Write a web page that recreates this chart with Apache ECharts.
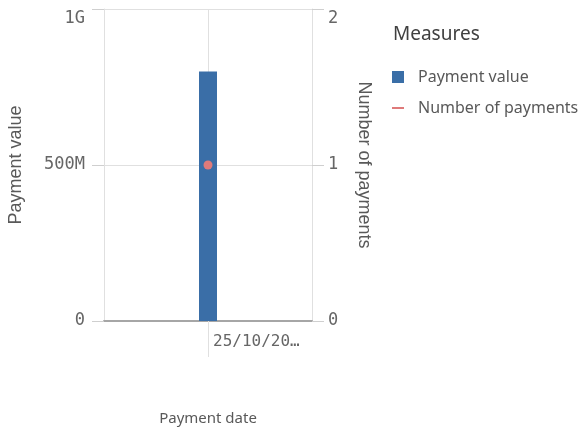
<!DOCTYPE html>
<html>
<head>
<meta charset="utf-8">
<script src="https://cdn.jsdelivr.net/npm/echarts@6/dist/echarts.min.js"></script>
<style>
html,body{margin:0;padding:0;background:#fff;}
#chart{width:584px;height:427px;}
</style>
</head>
<body>
<div id="chart"></div>
<script>
// Payments by date: value (bars, left axis) and count (points, right axis)
const categories = ['25/10/20…'];
const paymentValue = [800000000];
const numberOfPayments = [1];
const leftTicks = { min: 0, max: 1000000000, interval: 500000000 };
const rightTicks = { min: 0, max: 2, interval: 1 };

const monoFont = '"DejaVu Sans Mono", monospace';
const sansFont = '"Noto Sans", "Open Sans", sans-serif';
const nameFont = '"Liberation Sans", Arial, sans-serif';
const gridColor = '#e0e0e0';
const tickColor = '#cfcfcf';

function shortNumber(v) {
  if (v >= 1e9) return (v / 1e9) + 'G';
  if (v >= 1e6) return (v / 1e6) + 'M';
  return String(v);
}

// the topmost tick label sits just below its gridline so it stays inside the chart
function labelFormatter(max, fmt) {
  return function (v) {
    const s = fmt(v);
    return v === max ? '{top|' + s + '}' : s;
  };
}
const topRich = { top: { padding: [20, 0, 0, 0] } };

const chart = echarts.init(document.getElementById('chart'));
chart.setOption({
  animation: false,
  backgroundColor: '#fff',
  title: {
    text: 'Measures',
    left: 388, top: 20,
    textStyle: { fontFamily: sansFont, fontSize: 19, fontWeight: 'normal', color: '#404040' }
  },
  legend: {
    orient: 'vertical',
    left: 387, top: 64,
    itemWidth: 12, itemHeight: 12, itemGap: 15,
    textStyle: { fontFamily: sansFont, fontSize: 16, color: '#595959', padding: [0, 0, 0, 9] },
    data: [
      { name: 'Payment value', icon: 'rect' },
      { name: 'Number of payments', icon: 'path://M0,0 H12 V2 H0 Z' }
    ]
  },
  grid: { left: 104, right: 272, top: 9, bottom: 106, containLabel: false, outerBoundsMode: 'none' },
  xAxis: {
    type: 'category',
    data: categories,
    boundaryGap: true,
    name: 'Payment date',
    nameLocation: 'middle',
    nameGap: 90,
    nameTextStyle: { fontFamily: sansFont, fontSize: 15, color: '#595959' },
    axisLine: { show: true, lineStyle: { color: '#a6a6a6', width: 2 } },
    axisTick: { show: true, alignWithLabel: true, length: 36, lineStyle: { color: gridColor } },
    axisLabel: {
      fontFamily: monoFont, fontSize: 16, color: '#666',
      align: 'left', padding: [0, 0, 0, 5], margin: 13
    },
    splitLine: { show: true, lineStyle: { color: gridColor } }
  },
  yAxis: [
    {
      type: 'value',
      min: leftTicks.min, max: leftTicks.max, interval: leftTicks.interval,
      name: 'Payment value',
      nameLocation: 'middle',
      nameGap: 79,
      nameTextStyle: { fontFamily: nameFont, fontSize: 18, color: '#595959' },
      axisLine: { show: true, lineStyle: { color: gridColor } },
      axisTick: { show: true, inside: false, length: 12, lineStyle: { color: tickColor, width: 1 } },
      axisLabel: {
        fontFamily: monoFont, fontSize: 17, color: '#666', margin: 19,
        formatter: labelFormatter(leftTicks.max, shortNumber), rich: topRich
      },
      splitLine: { show: true, lineStyle: { color: gridColor } }
    },
    {
      type: 'value',
      position: 'right',
      min: rightTicks.min, max: rightTicks.max, interval: rightTicks.interval,
      name: 'Number of payments',
      nameLocation: 'middle',
      nameGap: 43,
      nameRotate: -90,
      nameTextStyle: { fontFamily: nameFont, fontSize: 18, color: '#595959' },
      axisLine: { show: true, lineStyle: { color: gridColor } },
      axisTick: { show: true, inside: false, length: 12, lineStyle: { color: tickColor, width: 1 } },
      axisLabel: {
        fontFamily: monoFont, fontSize: 17, color: '#666', margin: 16,
        formatter: labelFormatter(rightTicks.max, String), rich: topRich
      },
      splitLine: { show: false }
    }
  ],
  series: [
    {
      // centre gridline through the category, drawn beneath the bar
      name: 'category centre',
      type: 'line',
      data: [],
      z: 1,
      silent: true,
      markLine: {
        z: 1,
        silent: true,
        symbol: 'none',
        label: { show: false },
        lineStyle: { color: gridColor, type: 'solid', width: 1 },
        data: [{ xAxis: 0 }]
      }
    },
    {
      name: 'Payment value',
      type: 'bar',
      yAxisIndex: 0,
      data: paymentValue,
      barWidth: 18,
      itemStyle: { color: '#3a6ea7' },
      z: 3
    },
    {
      name: 'Number of payments',
      type: 'line',
      yAxisIndex: 1,
      data: numberOfPayments,
      symbol: 'circle',
      symbolSize: 9,
      itemStyle: { color: '#df7a7a' },
      lineStyle: { color: '#df7a7a' },
      z: 4
    }
  ]
});
</script>
</body>
</html>
